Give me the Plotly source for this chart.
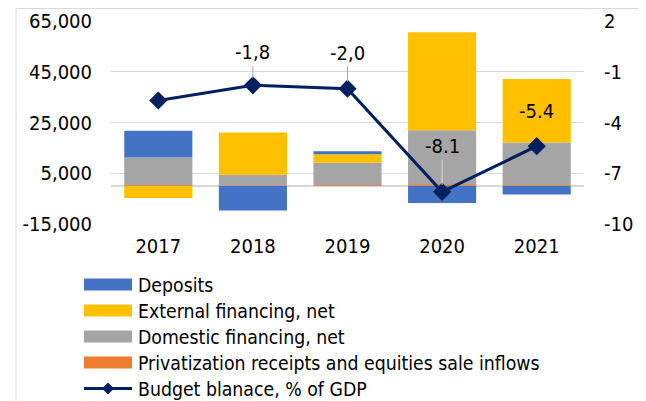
import plotly.graph_objects as go

# Values
years = ['2017', '2018', '2019', '2020', '2021']
deposits = [10500, -9700, 1200, -6700, -3400]
external_financing = [-4800, 16700, 3400, 38700, 25000]
domestic_financing = [11000, 4300, 8800, 21400, 16800]
privatization = [200, 100, 300, 500, 300]
budget_balance = [-2.7, -1.8, -2.0, -8.1, -5.4]
balance_labels = [None, '-1,8', '-2,0', '-8.1', '-5.4']

left_ticks = [-15000, 5000, 25000, 45000, 65000]
left_tick_text = ['-15,000', '5,000', '25,000', '45,000', '65,000']
right_ticks = [-10, -7, -4, -1, 2]
right_tick_text = ['-10', '-7', '-4', '-1', '2']

FONT = 'DejaVu Sans Condensed, DejaVu Sans, sans-serif'
OFF = 8  # page body margin; layout below is measured in page pixels
W, H = 646 - OFF, 401 - OFF
L, T = 111 - OFF, 21 - OFF
R, B = W - (584 - OFF), H - (224 - OFF)
PW, PH = W - L - R, H - T - B


def px_x(px):
    return (px - OFF - L) / PW


def px_y(py):
    return (H - B - (py - OFF)) / PH


fig = go.Figure()

# stacking order bottom-up matches the reference
bar_series = [
    ('Privatization receipts and equities sale inflows', privatization, '#ED7D31'),
    ('Domestic financing, net', domestic_financing, '#A5A5A5'),
    ('External financing, net', external_financing, '#FFC000'),
    ('Deposits', deposits, '#4472C4'),
]
for name, vals, color in bar_series:
    fig.add_trace(go.Bar(
        x=years, y=vals, name=name, marker=dict(color=color, line=dict(width=0)),
    ))

LINE_COLOR = '#002060'
line_name = 'Budget blanace, % of GDP'
fig.add_trace(go.Scatter(
    x=years, y=budget_balance, yaxis='y2', mode='lines+markers',
    name=line_name,
    line=dict(color=LINE_COLOR, width=3),
    marker=dict(symbol='diamond', size=14, color=LINE_COLOR),
))

# data labels for the balance line (x given as category index)
label_offsets = [0, -33, -36, -46, -35]
label_arrows = ['#A6A6A6', '#A6A6A6', '#A6A6A6', '#D9D9D9', 'rgba(0,0,0,0)']
for i, (val, txt, off, acol) in enumerate(zip(budget_balance, balance_labels, label_offsets, label_arrows)):
    if txt is None:
        continue
    fig.add_annotation(
        x=i, y=val, xref='x', yref='y2', text=txt, showarrow=True, arrowhead=0,
        arrowwidth=1, arrowcolor=acol, ax=0, ay=off, standoff=7,
        font=dict(size=20, color='#000000', family=FONT),
    )

# hand-drawn legend (Excel style: wide swatches, tight rows)
legend_rows = [bar_series[3], bar_series[2], bar_series[1], bar_series[0]]
row_y0, row_step = 284.5, 26
for i, (name, _, color) in enumerate(legend_rows):
    cy = row_y0 + i * row_step
    fig.add_shape(
        type='rect', xref='paper', yref='paper',
        x0=px_x(84), x1=px_x(132), y0=px_y(cy + 6), y1=px_y(cy - 6),
        fillcolor=color, line=dict(width=0),
    )
    fig.add_annotation(
        xref='paper', yref='paper', x=px_x(135.5), y=px_y(cy + 1),
        xanchor='left', yanchor='middle', text=name, showarrow=False,
        font=dict(size=19.3, family=FONT, color='#000000'),
    )
cy = row_y0 + 4 * row_step
fig.add_shape(
    type='line', xref='paper', yref='paper',
    x0=px_x(84), x1=px_x(132), y0=px_y(cy), y1=px_y(cy),
    line=dict(color=LINE_COLOR, width=3),
)
fig.add_shape(
    type='path', xref='paper', yref='paper', xsizemode='pixel', ysizemode='pixel',
    xanchor=px_x(108), yanchor=px_y(cy), path='M -6 0 L 0 6 L 6 0 L 0 -6 Z',
    fillcolor=LINE_COLOR, line=dict(width=0),
)
fig.add_annotation(
    xref='paper', yref='paper', x=px_x(135.5), y=px_y(cy + 1),
    xanchor='left', yanchor='middle', text=line_name, showarrow=False,
    font=dict(size=19.3, family=FONT, color='#000000'),
)

# outer chart border
fig.add_shape(
    type='rect', xref='paper', yref='paper',
    x0=px_x(16), x1=px_x(639), y0=px_y(420), y1=px_y(8.5),
    line=dict(color='#D9D9D9', width=1), layer='below',
)

fig.update_layout(
    width=W, height=H,
    margin=dict(l=L, r=R, t=T, b=B, autoexpand=False),
    paper_bgcolor='white', plot_bgcolor='white',
    font=dict(family=FONT, size=20, color='#000000'),
    barmode='relative', bargap=0.28,
    showlegend=False,
    xaxis=dict(
        type='category', range=[-0.5, len(years) - 0.5],
        showgrid=False, showline=False, zeroline=False,
        ticks='outside', ticklen=4, tickcolor='rgba(0,0,0,0)',
    ),
    yaxis=dict(
        range=[-15000, 65000], tickvals=left_ticks, ticktext=left_tick_text,
        showgrid=True, gridcolor='#D9D9D9', gridwidth=1,
        zeroline=True, zerolinecolor='#D9D9D9', zerolinewidth=2,
        ticks='outside', ticklen=14, tickcolor='rgba(0,0,0,0)',
    ),
    yaxis2=dict(
        range=[-10, 2], tickvals=right_ticks, ticktext=right_tick_text,
        overlaying='y', side='right',
        showgrid=False, zeroline=False,
        ticks='outside', ticklen=15, tickcolor='rgba(0,0,0,0)',
    ),
)

fig.write_html('out.html')
